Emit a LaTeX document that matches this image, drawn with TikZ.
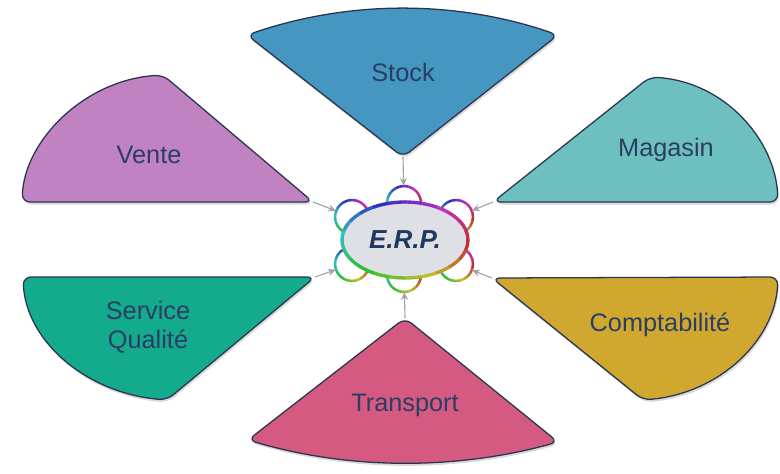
\documentclass[tikz,border=0pt]{standalone}
\usepackage{fontspec}
\setmainfont{Liberation Sans}
\usepackage{tikz}
\usetikzlibrary{shapes,positioning,calc}
\usetikzlibrary{shapes.geometric}
\usetikzlibrary{arrows.meta}
\usetikzlibrary{shadows}
\definecolor{stockcol}{RGB}{69,150,192}
\definecolor{ventecol}{RGB}{192,130,192}
\definecolor{magasincol}{RGB}{110,192,192}
\definecolor{servicecol}{RGB}{20,170,140}
\definecolor{comptacol}{RGB}{208,168,48}
\definecolor{transportcol}{RGB}{212,90,130}
\definecolor{bordcol}{RGB}{40,52,80}
\definecolor{textcol}{RGB}{42,62,100}
\definecolor{erpcol}{RGB}{222,224,230}
\definecolor{erptext}{RGB}{30,56,96}
\definecolor{flechecol}{RGB}{160,162,166}
\tikzstyle{secteur} = [draw=bordcol, line width=0.9pt, rounded corners=2mm,
drop shadow={opacity=0.3, shadow xshift=0.8pt, shadow yshift=-1.8pt}]
\tikzstyle{etiquette} = [font=\fontsize{18}{21}\selectfont, text=textcol, align=center]
\tikzstyle{noyau} = [ellipse, minimum width=31.5mm, minimum height=19mm, fill=erpcol,
text=erptext, font=\fontsize{18.5}{21}\selectfont\bfseries\itshape]
\tikzstyle{bulle} = [circle, minimum size=8.5mm, inner sep=0pt]
\tikzstyle{arrow} = [draw=flechecol, line width=0.8pt, -{Stealth[length=5.5pt, width=5pt]}]
% anneau arc-en-ciel : centre, rayon x, rayon y, epaisseur
\newcommand{\erpring}[4]{%
  \foreach \a in {0,15,...,345}{
    \definecolor{ringcol}{Hsb}{\a,0.75,0.75}
    \draw[ringcol, line width=#4] (#1) ++(\a:#2 and #3) arc[start angle=\a, delta angle=16, x radius=#2, y radius=#3];
  }}

\begin{document}
\begin{tikzpicture}[x=0.25mm, y=-0.25mm]
	\useasboundingbox (0,0) rectangle (780,473);
	\coordinate (stocktip) at (403,157);
	\coordinate (ventetip) at (313,202);
	\coordinate (magasintip) at (493,202);
	\coordinate (servicetip) at (315,277);
	\coordinate (comptatip) at (492,278);
	\coordinate (transporttip) at (405,318);
	% secteurs
	\draw[secteur, fill=stockcol] (247,35) .. controls (350,0) and (456,0) .. (558,35) -- (stocktip) -- cycle;
	\draw[secteur, fill=ventecol] (22,202) .. controls (25,140) and (85,80) .. (163,75) -- (ventetip) -- cycle;
	\draw[secteur, fill=magasincol] (778,202) .. controls (775,140) and (725,82) .. (650,77) -- (magasintip) -- cycle;
	\draw[secteur, fill=servicecol] (167,400) .. controls (85,393) and (26,340) .. (23,277) -- (servicetip) -- cycle;
	\draw[secteur, fill=comptacol] (778,277) .. controls (775,340) and (720,393) .. (643,400) -- (comptatip) -- cycle;
	\draw[secteur, fill=transportcol] (558,442) .. controls (456,470) and (350,470) .. (248,440) -- (transporttip) -- cycle;
	\node (stock) at (403,72) [etiquette] {Stock};
	\node (vente) at (149,155) [etiquette] {Vente};
	\node (magasin) at (666,150) [etiquette] {Magasin};
	\node (service) at (148,327) [etiquette] {Service\\Qualité};
	\node (compta) at (660,325) [etiquette] {Comptabilité};
	\node (transport) at (405,405) [etiquette] {Transport};
	% noyau E.R.P.
	\node (btop) at (404,203) [bulle] {};
	\node (bbas) at (404,275) [bulle] {};
	\node (bhg) at (352,217) [bulle] {};
	\node (bhd) at (456,217) [bulle] {};
	\node (bbg) at (352,264) [bulle] {};
	\node (bbd) at (456,264) [bulle] {};
	\erpring{btop}{17}{17}{1.8pt}
	\erpring{bbas}{17}{17}{1.8pt}
	\erpring{bhg}{17}{17}{1.8pt}
	\erpring{bhd}{17}{17}{1.8pt}
	\erpring{bbg}{17}{17}{1.8pt}
	\erpring{bbd}{17}{17}{1.8pt}
	\node (erp) at (405,240) [noyau] {E.R.P.};
	\erpring{erp}{63}{38}{2.4pt}
	% fleches
	\draw[arrow] (stocktip) -- (btop);
	\draw[arrow] (ventetip) -- (bhg);
	\draw[arrow] (magasintip) -- (bhd);
	\draw[arrow] (servicetip) -- (bbg);
	\draw[arrow] (comptatip) -- (bbd);
	\draw[arrow] (transporttip) -- (bbas);
\end{tikzpicture}
\end{document}
